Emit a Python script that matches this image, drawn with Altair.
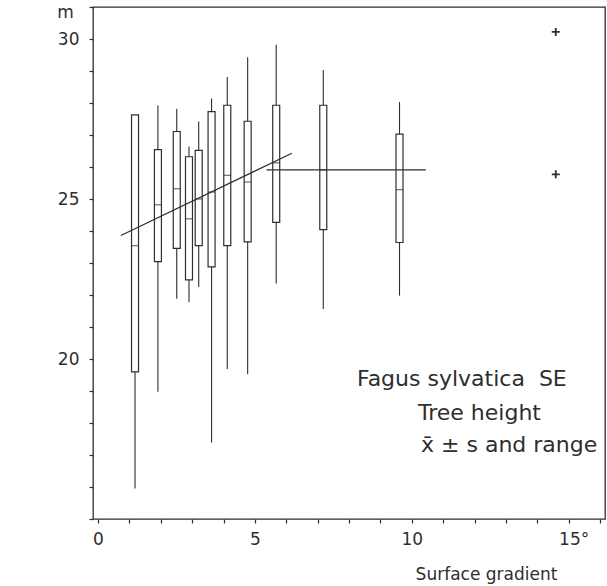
import altair as alt
import pandas as pd

INK = "#2e2e2e"
FONT = "DejaVu Sans"

# Box-plot values (surface gradient in degrees, tree height in m)
gradient = [1.18, 1.91, 2.51, 2.90, 3.21, 3.62, 4.12, 4.77, 5.68, 7.18, 9.61]
h_min = [15.95, 18.98, 21.88, 21.77, 22.25, 17.39, 19.69, 19.52, 22.36, 21.56, 21.98]
h_lo = [19.60, 23.04, 23.46, 22.47, 23.54, 22.88, 23.54, 23.66, 24.27, 24.04, 23.64]
h_mean = [23.54, 24.82, 25.32, 24.38, 25.00, 25.22, 25.74, 25.53, 26.13, 25.91, 25.29]
h_hi = [27.63, 26.54, 27.11, 26.32, 26.52, 27.73, 27.93, 27.43, 27.93, 27.93, 27.03]
h_max = [27.63, 27.92, 27.82, 26.64, 27.42, 28.14, 28.81, 29.43, 29.82, 29.03, 28.03]

# Regression lines
slope_x = [0.73, 6.18]
slope_y = [23.86, 26.43]
flat_x = [5.37, 10.45]
flat_y = [25.91, 25.91]

# Isolated points
plus_x = [14.59, 14.59]
plus_y = [30.22, 25.77]

x_ticks = list(range(0, 17))
y_ticks = list(range(15, 32))

boxes = pd.DataFrame({"g": gradient, "mn": h_min, "lo": h_lo, "mean": h_mean,
                      "hi": h_hi, "mx": h_max})
slope_df = pd.DataFrame({"g": slope_x, "h": slope_y})
flat_df = pd.DataFrame({"g": flat_x, "h": flat_y})
plus_df = pd.DataFrame({"g": plus_x, "h": plus_y})
one = pd.DataFrame({"k": [0]})

xscale = alt.Scale(domain=[0, 16], nice=False, zero=False)
yscale = alt.Scale(domain=[15, 31], nice=False, zero=False)

xaxis = alt.Axis(
    values=x_ticks, tickCount=40, format="d",
    labelExpr="datum.value == 15 ? '15°' : (datum.value % 5 == 0 && datum.value < 16 ? datum.label : '')",
    labelOffset={"condition": {"test": "datum.value == 15", "value": 5}, "value": 0},
    tickSize=4, tickColor=INK, tickWidth=1.2, domain=False, grid=False,
    labelOverlap=False, labelBound=False,
    labelFont=FONT, labelFontSize=17, labelColor=INK, labelPadding=8,
    labelFlush=False,
    title="Surface gradient", titleFont=FONT, titleFontSize=17,
    titleFontWeight="normal", titleColor=INK, titleX=393, titleY=60,
    titleAlign="center", titleBaseline="alphabetic",
)
yaxis = alt.Axis(
    values=y_ticks, tickCount=40, format="d",
    labelExpr="(datum.value == 20 || datum.value == 25 || datum.value == 30) ? datum.label : ''",
    tickSize=4, tickColor=INK, tickWidth=1.2, domain=False, grid=False,
    labelOverlap=False, labelBound=False,
    labelFont=FONT, labelFontSize=17, labelColor=INK, labelPadding=10,
    labelFlush=False,
    title="m", titleFont=FONT, titleFontSize=17, titleFontWeight="normal",
    titleColor=INK, titleAngle=0, titleX=-28, titleY=10,
    titleAlign="center", titleBaseline="alphabetic",
)


def X(field):
    return alt.X(field, type="quantitative", scale=xscale, axis=xaxis)


def Y(field):
    return alt.Y(field, type="quantitative", scale=yscale, axis=yaxis)


whiskers = alt.Chart(boxes).mark_rule(color=INK, strokeWidth=1.1).encode(
    x=X("g"), y=Y("mn"), y2="mx:Q")
rects = alt.Chart(boxes).mark_bar(size=7, fill="white", stroke=INK,
                                  strokeWidth=1.2).encode(
    x=X("g"), y=Y("lo"), y2="hi:Q")
means = alt.Chart(boxes).mark_tick(orient="horizontal", size=7, thickness=1.2,
                                   color=INK).encode(x=X("g"), y=Y("mean"))
slope = alt.Chart(slope_df).mark_line(color=INK, strokeWidth=1.2).encode(
    x=X("g"), y=Y("h"))
flat = alt.Chart(flat_df).mark_line(color=INK, strokeWidth=1.2).encode(
    x=X("g"), y=Y("h"))
plus = alt.Chart(plus_df).mark_point(shape="M-1,0L1,0M0,-1L0,1", size=64,
                                     strokeWidth=1.8, color=INK,
                                     filled=False, opacity=1).encode(
    x=X("g"), y=Y("h"))


def label(text, px, py):
    return alt.Chart(one).mark_text(
        text=text, font=FONT, fontSize=22, color=INK, align="left",
        baseline="alphabetic").encode(x=alt.value(px), y=alt.value(py))


t1 = label("Fagus sylvatica\u00a0\u00a0SE", 264, 379)
t2 = label("Tree height", 325, 413)
t3 = label("x\u0304 \u00b1 s and range", 328, 445)

chart = alt.layer(whiskers, rects, means, slope, flat, plus, t1, t2, t3).properties(
    width=512, height=512,
    autosize=alt.AutoSizeParams(type="none"),
    padding={"left": 93, "top": 7, "right": 2, "bottom": 67},
    background="white",
).configure_view(stroke=INK, strokeWidth=1.3)

chart.save("out.html", embed_options={"renderer": "svg", "actions": False})
